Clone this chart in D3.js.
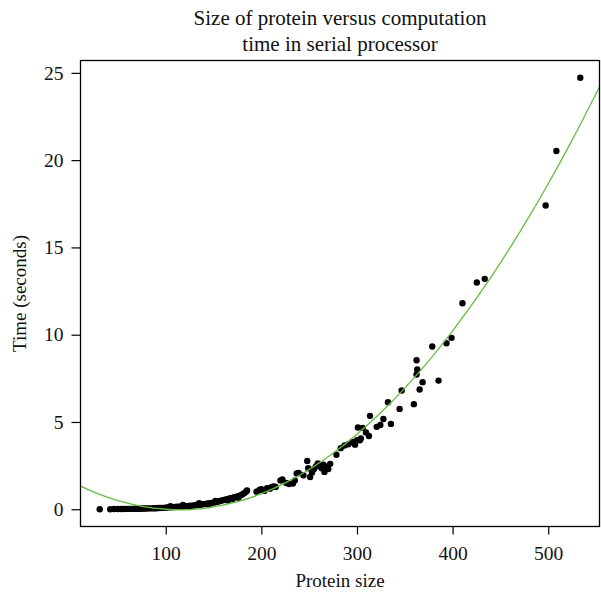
<!DOCTYPE html>
<html>
<head>
<meta charset="utf-8">
<script src="https://cdn.jsdelivr.net/npm/d3@7"></script>
<style>
  html, body { margin: 0; padding: 0; background: #fff; }
  svg text { font-family: "Liberation Serif", "DejaVu Serif", serif; fill: #111; }
</style>
</head>
<body>
<svg id="chart" width="601" height="596"></svg>
<script>
// ---- Data ----
const proteinSize = [
  31, 42, 46, 50, 53, 56, 58, 60, 62, 64, 66, 68, 70, 72, 74, 76, 78, 80, 82, 84,
  86, 88, 90, 92, 94, 96, 98, 100, 102, 104, 106, 108, 110, 112, 114, 116, 118, 120, 122, 124,
  126, 128, 130, 132, 134, 136, 138, 140, 142, 144, 146, 148, 150, 152, 154, 156, 158, 160, 162, 164,
  166, 168, 170, 172, 174, 176, 178, 180, 182, 184, 185,
  105, 118, 125, 135, 145, 152, 165, 170, 176,
  195, 198, 200, 203, 206, 209, 211, 213, 215, 220, 222, 226, 229, 233, 235, 237, 239, 244, 248, 249,
  251, 253, 255, 257, 259, 261, 263, 265, 266, 268, 270, 272, 278.5,
  283, 287, 291, 295, 298, 300, 301, 303, 304, 306, 309.4, 312.5, 313.6, 320.6, 324.4, 327.6, 332.4, 335.5,
  344.6, 346.7, 359.5, 362.3, 363, 362.3, 365.5, 368.6, 378.7, 385.3, 393.6, 398.9, 410.3, 425.3, 433.6,
  497.3, 508.5, 533.5
];
const timeSeconds = [
  0.00, 0.00, 0.01, 0.01, 0.01, 0.01, 0.02, 0.02, 0.02, 0.02, 0.02, 0.03, 0.03, 0.03, 0.03, 0.04, 0.04, 0.04, 0.05, 0.05,
  0.05, 0.06, 0.06, 0.07, 0.07, 0.08, 0.08, 0.09, 0.10, 0.11, 0.11, 0.12, 0.13, 0.14, 0.15, 0.15, 0.16, 0.17, 0.18, 0.19,
  0.20, 0.21, 0.22, 0.24, 0.25, 0.26, 0.28, 0.29, 0.31, 0.33, 0.34, 0.36, 0.38, 0.40, 0.43, 0.46, 0.49, 0.52, 0.55, 0.57,
  0.60, 0.63, 0.66, 0.69, 0.72, 0.75, 0.79, 0.85, 0.92, 1.00, 1.08,
  0.18, 0.24, 0.12, 0.34, 0.24, 0.48, 0.50, 0.58, 0.66,
  1.00, 1.10, 1.15, 1.05, 1.20, 1.18, 1.28, 1.30, 1.28, 1.65, 1.70, 1.50, 1.45, 1.47, 1.65, 2.05, 2.08, 1.95, 2.77, 2.35,
  1.85, 2.10, 2.30, 2.45, 2.62, 2.50, 2.35, 2.55, 2.14, 2.42, 2.30, 2.60, 3.12,
  3.50, 3.65, 3.72, 3.85, 3.70, 3.95, 4.68, 3.95, 4.05, 4.66, 4.40, 4.20, 5.35, 4.72, 4.83, 5.17, 6.13, 4.89,
  5.75, 6.80, 6.02, 8.54, 8.01, 7.72, 6.86, 7.28, 9.32, 7.37, 9.51, 9.82, 11.80, 12.99, 13.20,
  17.40, 20.52, 24.72
];
// fitted quadratic trend line, read at regular protein sizes
const fitX = [10.9, 25, 50, 75, 100, 125, 150, 175, 200, 225, 250, 275, 300, 325, 350, 375, 400, 425, 450, 475, 500, 525, 550, 553.6];
const fitY = [1.32, 0.98, 0.49, 0.17, 0.00, -0.02, 0.13, 0.43, 0.89, 1.51, 2.28, 3.21, 4.30, 5.54, 6.94, 8.50, 10.22, 12.09, 14.12, 16.31, 18.65, 21.15, 23.81, 24.20];
const xTicks = [100, 200, 300, 400, 500];
const yTicks = [0, 5, 10, 15, 20, 25];
const titleLines = ["Size of protein versus computation", "time in serial processor"];
const xTitle = "Protein size";
const yTitle = "Time (seconds)";

// ---- Layout ----
const plotL = 80.5, plotR = 599.5, plotT = 60.5, plotB = 526.5;
const svg = d3.select("#chart");

const xExt = d3.extent(proteinSize), yExt = d3.extent(timeSeconds);
const xPad = (xExt[1] - xExt[0]) * 0.04, yPad = (yExt[1] - yExt[0]) * 0.04;
const x = d3.scaleLinear().domain([xExt[0] - xPad, xExt[1] + xPad]).range([plotL, plotR]);
const y = d3.scaleLinear().domain([yExt[0] - yPad, yExt[1] + yPad]).range([plotB, plotT]);

svg.append("clipPath").attr("id", "plotclip")
  .append("rect").attr("x", plotL).attr("y", plotT).attr("width", plotR - plotL).attr("height", plotB - plotT);

// points
const pts = proteinSize.map((v, i) => [v, timeSeconds[i]]);
svg.append("g").selectAll("circle").data(pts).join("circle")
  .attr("cx", d => x(d[0])).attr("cy", d => y(d[1])).attr("r", 3.2).attr("fill", "#000");

// fit curve
const fit = fitX.map((v, i) => [v, fitY[i]]);
svg.append("path").datum(fit)
  .attr("clip-path", "url(#plotclip)")
  .attr("fill", "none").attr("stroke", "#66bd45").attr("stroke-width", 1.3)
  .attr("d", d3.line().x(d => x(d[0])).y(d => y(d[1])).curve(d3.curveCatmullRom.alpha(0.5)));

// box
svg.append("rect").attr("x", plotL).attr("y", plotT).attr("width", plotR - plotL).attr("height", plotB - plotT)
  .attr("fill", "none").attr("stroke", "#000").attr("stroke-width", 1.3);

// axes
const xAxis = d3.axisBottom(x).tickValues(xTicks).tickSize(8).tickSizeOuter(0).tickPadding(12);
const gx = svg.append("g").attr("transform", `translate(0,${plotB})`).call(xAxis);
gx.select(".domain").remove();
gx.selectAll("line").attr("stroke", "#000").attr("stroke-width", 1.2);
gx.selectAll("text").attr("font-size", 19.5).attr("font-family", "Liberation Serif").attr("fill", "#111");

const yAxis = d3.axisLeft(y).tickValues(yTicks).tickSize(9).tickSizeOuter(0).tickPadding(8);
const gy = svg.append("g").attr("transform", `translate(${plotL},0)`).call(yAxis);
gy.select(".domain").remove();
gy.selectAll("line").attr("stroke", "#000").attr("stroke-width", 1.2);
gy.selectAll("text").attr("font-size", 19.5).attr("font-family", "Liberation Serif").attr("fill", "#111");

// titles
const cx = (plotL + plotR) / 2;
svg.append("text").attr("x", cx).attr("y", 25).attr("text-anchor", "middle").attr("font-size", 21).text(titleLines[0]);
svg.append("text").attr("x", cx).attr("y", 51).attr("text-anchor", "middle").attr("font-size", 21).text(titleLines[1]);
svg.append("text").attr("x", cx).attr("y", 587).attr("text-anchor", "middle").attr("font-size", 19).text(xTitle);
svg.append("text").attr("transform", `translate(26,${(plotT + plotB) / 2}) rotate(-90)`)
  .attr("text-anchor", "middle").attr("font-size", 19).text(yTitle);
</script>
</body>
</html>
